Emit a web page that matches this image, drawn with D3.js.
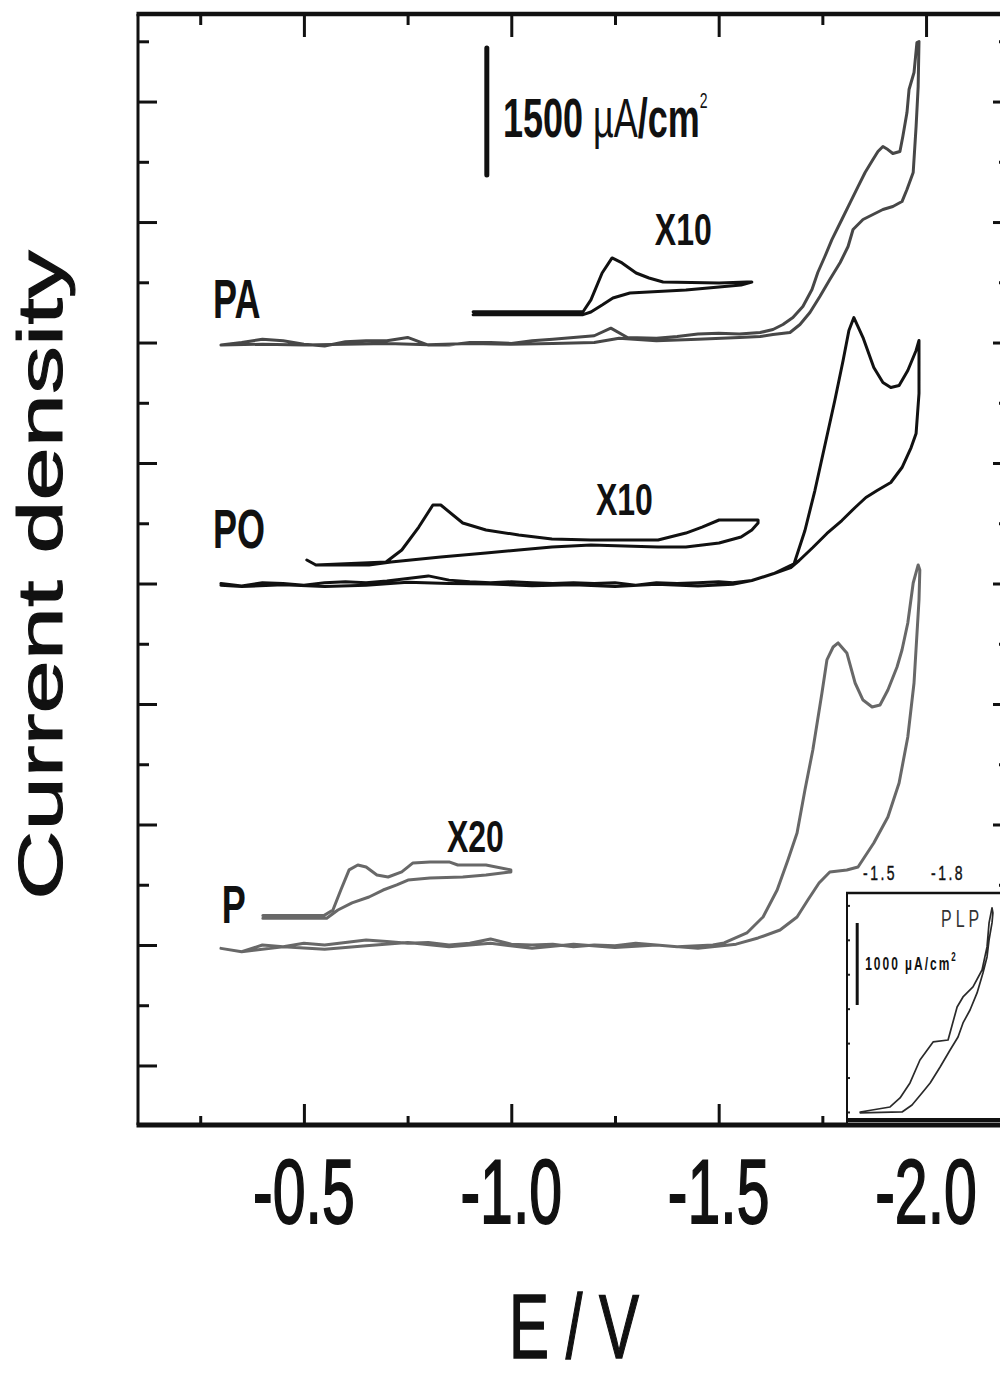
<!DOCTYPE html>
<html>
<head>
<meta charset="utf-8">
<script src="https://cdn.jsdelivr.net/npm/d3@7"></script>
<style>
    html, body { margin: 0; padding: 0; background: #fff; }
    svg { display: block; }
    text { font-family: "Liberation Sans", Arial, sans-serif; fill: #111; }
</style>
</head>
<body>
<div id="app"></div>
<script>
const svgW = 1000;
const svgH = 1380;

const frameL = 138;
const frameR = 1009;
const frameT = 14;
const frameB = 1125;

// the printed figure is stretched vertically, so all text is drawn taller than wide
const stretch = 1.52;

// ---- data ----
const eDomain = [-0.1, -2.2];
const eMajorTicks = [-0.5, -1.0, -1.5, -2.0];
const eMinorTicks = [-0.25, -0.75, -1.25, -1.75];

// current density in µA/cm², 0 = baseline of P
const jDomain = [-2126, 10995];
const jTickStep = 1423;

const paOffset = 7115;
const poOffset = 4269;
const pOffset = 0;
const paZoomOffset = 7464;
const poZoomOffset = 4523;
const pZoomOffset = 331;

// PA, forward then reverse
const paE = [-0.30, -0.35, -0.40, -0.45, -0.50, -0.55, -0.60, -0.65, -0.70, -0.75, -0.80, -0.85, -0.90, -0.95,
    -1.00, -1.05, -1.10, -1.15, -1.20, -1.24, -1.28, -1.35, -1.40, -1.45, -1.50, -1.55, -1.60,
    -1.631, -1.655, -1.679, -1.703, -1.725, -1.739, -1.756, -1.773, -1.797, -1.817, -1.836, -1.853, -1.872,
    -1.884, -1.896, -1.908, -1.920, -1.937, -1.944, -1.954, -1.959, -1.971, -1.978, -1.983,
    -1.981, -1.976, -1.969, -1.954, -1.942, -1.920, -1.896, -1.872, -1.848, -1.824, -1.812, -1.793, -1.768,
    -1.744, -1.720, -1.696, -1.672, -1.631, -1.600, -1.55, -1.45, -1.35, -1.26, -1.20, -1.10, -1.00, -0.90,
    -0.80, -0.70, -0.60, -0.50, -0.40, -0.30];
const paJ = [-30, 0, 40, 20, -20, -40, 10, 20, 20, 60, -30, -30, 0, 0,
    -10, 20, 40, 60, 80, 170, 60, 50, 70, 100, 110, 100, 118,
    154, 213, 295, 425, 626, 827, 1016, 1216, 1453, 1653, 1842, 2008, 2161,
    2256, 2315, 2279, 2232, 2256, 2433, 2716, 2988, 3189, 3543, 3555,
    3023, 2551, 2008, 1807, 1665, 1606, 1571, 1512, 1453, 1335, 1134, 945, 744,
    543, 354, 213, 118, 94, 71, 60, 40, 20, 50, 0, -10, -20, -10,
    -25, -10, -20, -30, -20, -30];

// PO, forward then reverse
const poE = [-0.30, -0.35, -0.40, -0.45, -0.50, -0.55, -0.60, -0.65, -0.70, -0.75, -0.80, -0.85, -0.90, -0.95,
    -1.00, -1.05, -1.10, -1.15, -1.20, -1.25, -1.30, -1.35, -1.40, -1.45, -1.50, -1.534, -1.58, -1.633, -1.674,
    -1.682, -1.708, -1.732, -1.756, -1.780, -1.800, -1.814, -1.826, -1.848, -1.874, -1.896, -1.915, -1.935,
    -1.956, -1.976, -1.983,
    -1.983, -1.976, -1.964, -1.942, -1.915, -1.882, -1.855, -1.829, -1.797, -1.761, -1.727, -1.694, -1.674,
    -1.633, -1.580, -1.534, -1.45, -1.35, -1.25, -1.15, -1.05, -0.95, -0.85, -0.75, -0.65, -0.55, -0.45,
    -0.35, -0.30];
const poJ = [0, -30, 10, 0, -20, 10, 20, 10, 30, 60, 90, 40, 20, 10,
    20, 10, 0, 10, 0, 10, -20, 10, 0, 10, 20, 10, 35, 118, 213,
    236, 626, 1098, 1630, 2161, 2634, 2988, 3141, 2905, 2551, 2374, 2315, 2338,
    2516, 2752, 2870,
    2244, 1772, 1606, 1370, 1193, 1098, 1016, 898, 744, 591, 425, 272, 189,
    118, 35, -10, -30, -10, -35, -15, -25, -5, 0, 15, -20, -35, -15,
    -35, -20];

// P, forward then reverse
const pE = [-0.30, -0.35, -0.40, -0.45, -0.50, -0.55, -0.60, -0.65, -0.70, -0.75, -0.80, -0.85, -0.90, -0.95,
    -1.00, -1.05, -1.10, -1.15, -1.20, -1.25, -1.30, -1.35, -1.40, -1.45, -1.486, -1.513, -1.568, -1.607,
    -1.641, -1.667, -1.689, -1.708, -1.727, -1.749, -1.761, -1.776, -1.788, -1.809, -1.829, -1.848, -1.870,
    -1.889, -1.908, -1.930, -1.942, -1.956, -1.969, -1.981,
    -1.985, -1.983, -1.971, -1.956, -1.935, -1.908, -1.874, -1.836, -1.809, -1.768, -1.742, -1.715, -1.689,
    -1.648, -1.595, -1.542, -1.45, -1.35, -1.25, -1.15, -1.05, -0.95, -0.85, -0.75, -0.65, -0.55, -0.45,
    -0.35, -0.30];
const pJ = [-40, -80, 0, -20, 20, 0, 30, 60, 40, 20, 30, 0, 20, 70,
    10, 0, 10, -20, 0, -10, 20, 0, -20, -10, 0, 24, 142, 331,
    650, 1004, 1323, 1831, 2303, 2976, 3366, 3519, 3567, 3449, 3094, 2893, 2811,
    2834, 3012, 3283, 3484, 3803, 4275, 4488,
    4429, 4074, 3094, 2456, 1913, 1512, 1205, 921, 886, 862, 732, 531, 331,
    177, 83, 10, -40, 0, -30, 10, -40, 20, -20, 30, -10, -50, -20,
    -80, -40];

// magnified windows (true current, drawn x10 / x20)
const paZoomE = [-0.908, -1.173, -1.192, -1.219, -1.243, -1.267, -1.301, -1.332, -1.366, -1.501, -1.568, -1.580,
    -1.554, -1.501, -1.421, -1.286, -1.245, -1.219, -1.192, -1.173, -0.908];
const paZoomJ = [1.5, 1.5, 15.4, 47.2, 65.0, 59.1, 47.2, 41.3, 36.6, 35.4, 36.6, 36.6,
    33.1, 30.7, 27.2, 23.6, 17.7, 9.4, 1.2, -2.0, -2.0];

const poZoomE = [-0.507, -0.529, -0.642, -0.698, -0.736, -0.777, -0.811, -0.830, -0.883, -0.939, -1.018, -1.098,
    -1.192, -1.354, -1.421, -1.460, -1.501, -1.595,
    -1.595, -1.580, -1.554, -1.501, -1.421, -1.354, -1.192, -1.098, -1.018, -0.939, -0.830, -0.710, -0.657, -0.529];
const poZoomJ = [2.4, -3.5, -1.2, 0, 14.2, 41.3, 67.3, 67.3, 46.1, 37.8, 31.9, 27.2,
    26.0, 26.0, 34.2, 41.3, 49.6, 49.6,
    46.1, 37.8, 29.5, 22.4, 17.7, 17.7, 20.1, 17.7, 14.2, 10.6, 5.9, 0, -3.5, -3.5];

const pZoomE = [-0.401, -0.548, -0.570, -0.589, -0.609, -0.630, -0.650, -0.676, -0.703, -0.736, -0.763, -0.804,
    -0.850, -0.871, -0.939, -0.999,
    -0.999, -0.939, -0.883, -0.804, -0.751, -0.724, -0.691, -0.657, -0.616, -0.582, -0.555, -0.401];
const pZoomJ = [0.8, 0.8, 4.1, 15.9, 27.8, 30.7, 29.5, 24.8, 23.6, 26.6, 31.9, 32.5,
    32.5, 30.7, 30.7, 27.8,
    26.6, 24.8, 23.6, 23.0, 21.8, 18.9, 15.9, 11.8, 8.3, 4.1, -0.8, -0.8];

// inset PLP
const insetEDomain = [-1.354, -2.069];
const insetJDomain = [-159, 2671];
const insetTickLabels = [-1.5, -1.8];
const insetJTickStep = 420;
const plpE = [-1.412, -1.544, -1.588, -1.632, -1.676, -1.734, -1.800, -1.840, -1.866, -1.910, -1.950, -1.972,
    -1.981, -1.994,
    -1.998, -1.994, -1.981, -1.972, -1.954, -1.928, -1.897, -1.866, -1.844, -1.809, -1.765, -1.721, -1.685,
    -1.641, -1.597, -1.412];
const plpJ = [0, 61, 171, 354, 634, 854, 878, 1281, 1403, 1525, 1732, 2013,
    2306, 2489,
    2428, 2306, 2098, 1891, 1696, 1452, 1244, 1086, 915, 756, 549, 354, 232,
    85, 0, -10];

// ---- drawing ----
const svg = d3.select("#app")
    .append("svg")
    .attr("width", svgW)
    .attr("height", svgH);

svg.append("rect")
    .attr("width", svgW)
    .attr("height", svgH)
    .attr("fill", "#fff");

const x = d3.scaleLinear().domain(eDomain).range([frameL, frameR]);
const y = d3.scaleLinear().domain(jDomain).range([frameB, frameT]);

function zip(es, js) {
    return es.map(function (e, i) {
        return { e: e, j: js[i] };
    });
}

function stretchedText(parent, px, py, str, size, weight, anchor, k) {
    return parent.append("text")
        .attr("transform", "translate(" + px + "," + py + ") scale(1," + k + ")")
        .attr("text-anchor", anchor)
        .style("font-size", size + "px")
        .style("font-weight", weight)
        .text(str);
}

function drawCurve(xs, ys, es, js, offset, factor, color, width) {
    const line = d3.line()
        .x(function (d) { return xs(d.e); })
        .y(function (d) { return ys(offset + factor * d.j); });
    svg.append("path")
        .datum(zip(es, js))
        .attr("d", line)
        .attr("fill", "none")
        .attr("stroke", color)
        .attr("stroke-width", width)
        .attr("stroke-linejoin", "round")
        .attr("stroke-linecap", "round");
}

function styleAxis(g) {
    g.select(".domain").remove();
    g.selectAll(".tick line")
        .attr("stroke", "#111")
        .attr("stroke-width", 3);
}

//TICKS
const jMajorTicks = d3.range(-1, 8).map(function (k) { return k * jTickStep; });
const jMinorTicks = d3.range(-0.5, 8).map(function (k) { return k * jTickStep; });

svg.append("g").attr("transform", "translate(0," + frameB + ")")
    .call(d3.axisBottom(x).tickValues(eMajorTicks).tickSize(-21).tickFormat("")).call(styleAxis);
svg.append("g").attr("transform", "translate(0," + frameB + ")")
    .call(d3.axisBottom(x).tickValues(eMinorTicks).tickSize(-9).tickFormat("")).call(styleAxis);
svg.append("g").attr("transform", "translate(0," + frameT + ")")
    .call(d3.axisTop(x).tickValues(eMajorTicks).tickSize(-23).tickFormat("")).call(styleAxis);
svg.append("g").attr("transform", "translate(0," + frameT + ")")
    .call(d3.axisTop(x).tickValues(eMinorTicks).tickSize(-11).tickFormat("")).call(styleAxis);
svg.append("g").attr("transform", "translate(" + frameL + ",0)")
    .call(d3.axisLeft(y).tickValues(jMajorTicks).tickSize(-19).tickFormat("")).call(styleAxis);
svg.append("g").attr("transform", "translate(" + frameL + ",0)")
    .call(d3.axisLeft(y).tickValues(jMinorTicks).tickSize(-11).tickFormat("")).call(styleAxis);
svg.append("g").attr("transform", "translate(" + frameR + ",0)")
    .call(d3.axisRight(y).tickValues(jMajorTicks).tickSize(-16).tickFormat("")).call(styleAxis);
svg.append("g").attr("transform", "translate(" + frameR + ",0)")
    .call(d3.axisRight(y).tickValues(jMinorTicks).tickSize(-10).tickFormat("")).call(styleAxis);

//CURVES
drawCurve(x, y, paE, paJ, paOffset, 1, "#474747", 3);
drawCurve(x, y, poE, poJ, poOffset, 1, "#111", 3);
drawCurve(x, y, pE, pJ, pOffset, 1, "#686868", 3);
drawCurve(x, y, paZoomE, paZoomJ, paZoomOffset, 10, "#111", 3);
drawCurve(x, y, poZoomE, poZoomJ, poZoomOffset, 10, "#111", 3);
drawCurve(x, y, pZoomE, pZoomJ, pZoomOffset, 20, "#686868", 3);

//SCALE BAR 1500 µA/cm²
const barE = -0.941;
const barBottom = 9094;
svg.append("line")
    .attr("x1", x(barE)).attr("x2", x(barE))
    .attr("y1", y(barBottom)).attr("y2", y(barBottom + 1500))
    .attr("stroke", "#111").attr("stroke-width", 5).attr("stroke-linecap", "round");
const barLabel = stretchedText(svg, x(-0.980), y(9542), "", 36, "bold", "start", 1.55);
barLabel.append("tspan").text("1500 ");
barLabel.append("tspan").style("font-weight", "normal").text("\u00b5A");
barLabel.append("tspan").text("/cm");
barLabel.append("tspan").style("font-weight", "normal").style("font-size", "14px").attr("dy", -19).text("2");

//CURVE LABELS
stretchedText(svg, x(-0.281), y(7405), "PA", 36, "bold", "start", 1.52);
stretchedText(svg, x(-0.281), y(4689), "PO", 36, "bold", "start", 1.52);
stretchedText(svg, x(-0.302), y(260), "P", 36, "bold", "start", 1.48);
stretchedText(svg, x(-1.346), y(8267), "X10", 32, "bold", "start", 1.38);
stretchedText(svg, x(-1.204), y(5078), "X10", 32, "bold", "start", 1.38);
stretchedText(svg, x(-0.845), y(1098), "X20", 32, "bold", "start", 1.38);

//INSET PLP
const ix = d3.scaleLinear().domain(insetEDomain).range([847, frameR]);
const iy = d3.scaleLinear().domain(insetJDomain).range([frameB, 893]);

svg.append("rect")
    .attr("x", ix.range()[0]).attr("y", iy.range()[1])
    .attr("width", ix.range()[1] - ix.range()[0])
    .attr("height", iy.range()[0] - iy.range()[1])
    .attr("fill", "#fff");

const insetTicks = d3.range(0, 7).map(function (k) { return k * insetJTickStep; });
svg.append("g").attr("transform", "translate(" + ix.range()[0] + ",0)")
    .call(d3.axisLeft(iy).tickValues(insetTicks).tickSize(-3).tickFormat(""))
    .call(function (g) {
        g.select(".domain").remove();
        g.selectAll(".tick line").attr("stroke", "#222").attr("stroke-width", 2);
    });

drawCurve(ix, iy, plpE, plpJ, 0, 1, "#2a2a2a", 1.7);

svg.append("line")
    .attr("x1", ix.range()[0]).attr("x2", ix.range()[0])
    .attr("y1", iy.range()[1]).attr("y2", frameB)
    .attr("stroke", "#111").attr("stroke-width", 2);
svg.append("line")
    .attr("x1", ix.range()[0] - 1).attr("x2", frameR)
    .attr("y1", iy.range()[1]).attr("y2", iy.range()[1])
    .attr("stroke", "#111").attr("stroke-width", 2.5);
svg.append("line")
    .attr("x1", ix.range()[0]).attr("x2", frameR)
    .attr("y1", frameB - 5).attr("y2", frameB - 5)
    .attr("stroke", "#111").attr("stroke-width", 4);

const insetBarE = -1.399;
svg.append("line")
    .attr("x1", ix(insetBarE)).attr("x2", ix(insetBarE))
    .attr("y1", iy(1305)).attr("y2", iy(2305))
    .attr("stroke", "#111").attr("stroke-width", 3);
const insetBarLabel = stretchedText(svg, ix(-1.434), iy(1732), "", 12, "bold", "start", 1.5)
    .style("letter-spacing", "2px");
insetBarLabel.append("tspan").text("1000 \u00b5A/cm");
insetBarLabel.append("tspan").style("font-size", "8px").attr("dy", -6).text("2");

stretchedText(svg, ix(-1.769), iy(2257), "PLP", 16, "normal", "start", 1.5)
    .style("letter-spacing", "4px")
    .style("fill", "#333");

insetTickLabels.forEach(function (v) {
    stretchedText(svg, ix(v), 880, v.toFixed(1), 14, "normal", "middle", 1.5)
        .style("letter-spacing", "2.5px")
        .style("stroke", "#111").style("stroke-width", 0.3);
});

//FRAME
svg.append("line")
    .attr("x1", frameL).attr("x2", frameL).attr("y1", frameT).attr("y2", frameB)
    .attr("stroke", "#111").attr("stroke-width", 3);
svg.append("line")
    .attr("x1", frameL - 1.5).attr("x2", frameR).attr("y1", frameT).attr("y2", frameT)
    .attr("stroke", "#111").attr("stroke-width", 4.5);
svg.append("line")
    .attr("x1", frameL - 1.5).attr("x2", frameR).attr("y1", frameB).attr("y2", frameB)
    .attr("stroke", "#111").attr("stroke-width", 5);
svg.append("line")
    .attr("x1", frameR).attr("x2", frameR).attr("y1", frameT).attr("y2", frameB)
    .attr("stroke", "#111").attr("stroke-width", 3);

//AXIS LABELS
eMajorTicks.forEach(function (v) {
    stretchedText(svg, x(v), 1223, v.toFixed(1), 59, "normal", "middle", 1.55)
        .style("stroke", "#111").style("stroke-width", 1.2);
});
stretchedText(svg, 574, 1358, "E / V", 60, "normal", "middle", 1.5)
    .style("stroke", "#111").style("stroke-width", 1);

svg.append("text")
    .attr("transform", "translate(62,575) scale(1," + stretch + ") rotate(-90)")
    .attr("text-anchor", "middle")
    .style("font-size", "63px")
    .style("stroke", "#111")
    .style("stroke-width", 1)
    .text("Current density");
</script>
</body>
</html>
